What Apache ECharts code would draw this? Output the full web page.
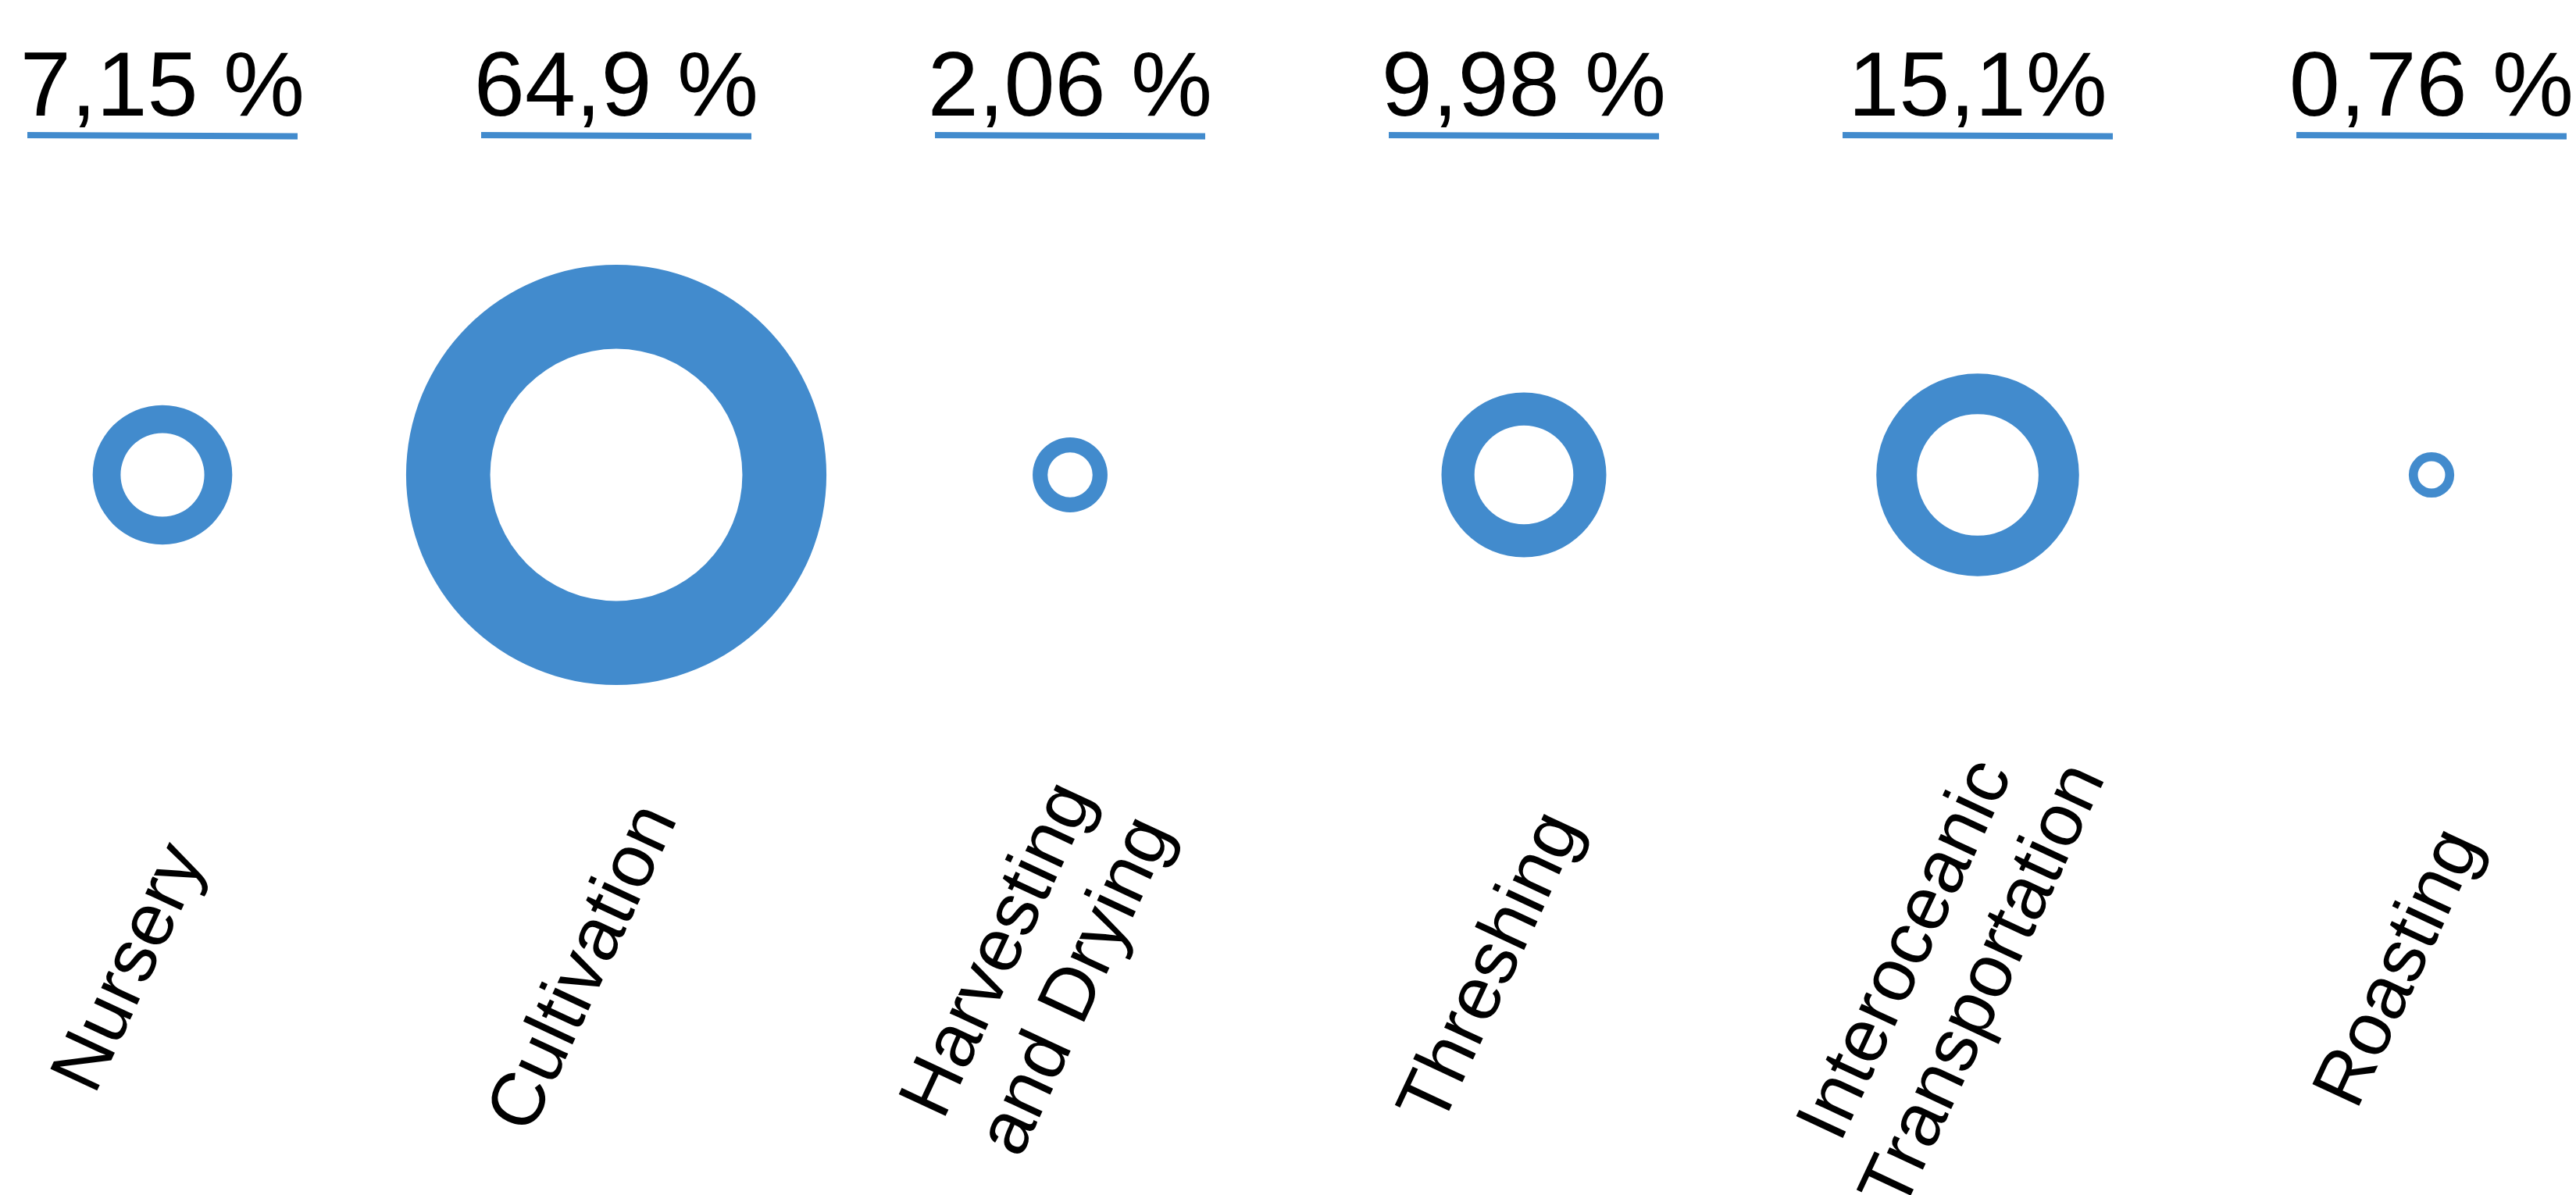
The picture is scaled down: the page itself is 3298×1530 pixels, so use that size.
<!DOCTYPE html>
<html>
<head>
<meta charset="utf-8">
<script src="https://cdn.jsdelivr.net/npm/echarts@6/dist/echarts.min.js"></script>
<style>
html,body{margin:0;padding:0;background:#ffffff;}
#chart{width:3298px;height:1530px;}
</style>
</head>
<body>
<div id="chart"></div>
<script>
// ---- data ----
const categories = ['Nursery', 'Cultivation', 'Harvesting\nand Drying', 'Threshing', 'Interoceanic\nTransportation', 'Roasting'];
const values = [7.15, 64.9, 2.06, 9.98, 15.1, 0.76];
const valueLabels = ['7,15 %', '64,9 %', '2,06 %', '9,98 %', '15,1%', '0,76 %'];

// ---- style ----
const BLUE = '#428bcd';
const FONT = '"Liberation Sans", Arial, sans-serif';
const RING_Y = 608;
const PCT_Y = 116;
const LINE_Y = 173;
const LABEL_Y = 1240;
const LABEL_DX = -40;
const K = 33.4;          // px radius per sqrt(percent) -> ring area proportional to value
const INNER = 0.6;

const chart = echarts.init(document.getElementById('chart'), null, { renderer: 'canvas' });

chart.setOption({
  animation: false,
  backgroundColor: '#ffffff',
  grid: { left: 208, right: 185, top: 0, bottom: 0 },
  xAxis: { type: 'category', data: categories, boundaryGap: false, show: false },
  yAxis: { type: 'value', min: 0, max: 1, show: false },
  series: [{
    type: 'custom',
    data: values.map((v, i) => [i, v]),
    renderItem: function (params, api) {
      const i = api.value(0);
      const v = api.value(1);
      const cx = api.coord([i, 0])[0];
      const R = K * Math.sqrt(v);
      return {
        type: 'group',
        children: [
          { type: 'ring', shape: { cx: cx, cy: RING_Y, r: R, r0: R * INNER }, style: { fill: BLUE } },
          { type: 'text', x: cx, y: PCT_Y,
            style: { text: valueLabels[i], fontFamily: FONT, fontSize: 117, fill: '#000000', align: 'center', verticalAlign: 'middle' } },
          { type: 'line', shape: { x1: cx - 173, y1: LINE_Y, x2: cx + 173, y2: LINE_Y + 1.5 },
            style: { stroke: BLUE, lineWidth: 8 } },
          { type: 'text', x: cx + LABEL_DX, y: LABEL_Y, rotation: 65 * Math.PI / 180,
            style: { text: categories[i], fontFamily: FONT, fontSize: 96, lineHeight: 110, fill: '#000000', align: 'center', verticalAlign: 'middle' } }
        ]
      };
    }
  }]
});
</script>
</body>
</html>
